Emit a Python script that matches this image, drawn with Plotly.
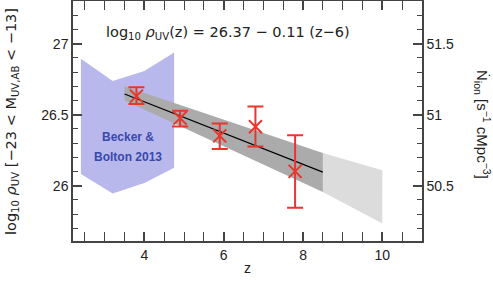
import plotly.graph_objects as go

# Data points
z_obs = [3.8, 4.9, 5.9, 6.8, 7.8]
rho_obs = [26.63, 26.475, 26.35, 26.415, 26.10]
err_up = [0.062, 0.052, 0.088, 0.142, 0.255]
err_lo = [0.055, 0.058, 0.092, 0.140, 0.255]

# Fit: log10 rho = 26.37 - 0.11 (z-6)
fit_a = 26.37
fit_b = -0.11
fit_z = [3.5, 8.5]

# Fit uncertainty bands (vertices)
band_z = [3.5, 8.5]
band_hi = [26.70, 26.23]
band_lo = [26.60, 25.955]
ext_z = [8.5, 10.0]
ext_hi = [26.23, 26.108]
ext_lo = [25.955, 25.733]

# Becker & Bolton 2013 region
bb_z = [2.4, 3.2, 4.0, 4.75]
bb_hi = [26.894, 26.737, 26.807, 26.937]
bb_lo = [26.082, 25.944, 26.018, 26.125]

RED = "#e8362c"
FONT = "Liberation Sans"

fig = go.Figure()

fig.add_trace(go.Scatter(
    x=bb_z + bb_z[::-1], y=bb_hi + bb_lo[::-1], fill="toself",
    fillcolor="#b8b8ec", line=dict(width=0), mode="lines", hoverinfo="skip"))

fig.add_trace(go.Scatter(
    x=ext_z + ext_z[::-1], y=ext_hi + ext_lo[::-1], fill="toself",
    fillcolor="#dcdcdc", line=dict(width=0), mode="lines", hoverinfo="skip"))

fig.add_trace(go.Scatter(
    x=band_z + band_z[::-1], y=band_hi + band_lo[::-1], fill="toself",
    fillcolor="#ababab", line=dict(width=0), mode="lines", hoverinfo="skip"))

fig.add_trace(go.Scatter(
    x=fit_z, y=[fit_a + fit_b * (z - 6) for z in fit_z], mode="lines",
    line=dict(color="black", width=1.2)))

fig.add_trace(go.Scatter(
    x=z_obs, y=rho_obs, mode="markers",
    marker=dict(symbol="x-thin", size=13, line=dict(color=RED, width=2)),
    error_y=dict(type="data", array=err_up, arrayminus=err_lo,
                 color=RED, thickness=2, width=8)))

# invisible trace for secondary axis
fig.add_trace(go.Scatter(x=[2.2], y=[51.0], yaxis="y2", mode="markers",
                         marker=dict(opacity=0), hoverinfo="skip"))

axcol = "#444444"
W, H = 493, 282
pl, pr, pt, pb = 73, 71, 1, 41
fig.update_layout(
    width=W, height=H,
    margin=dict(l=pl, r=pr, t=pt, b=pb, autoexpand=False),
    plot_bgcolor="white", paper_bgcolor="white",
    showlegend=False,
    font=dict(family=FONT, size=14, color="#222"),
    xaxis=dict(range=[2.2, 11.0], dtick=2, tick0=0, ticks="inside", ticklen=9,
               tickwidth=1.5, tickcolor=axcol, showline=True, linecolor=axcol,
               linewidth=1.5, mirror="allticks", showgrid=False, zeroline=False,
               minor=dict(dtick=0.5, ticklen=5, tickwidth=1.2, tickcolor=axcol,
                          ticks="inside", showgrid=False),
               tickfont=dict(size=14)),
    yaxis=dict(range=[25.61, 27.30], tickvals=[26, 26.5, 27], ticktext=["26", "26.5", "27"],
               ticks="inside", ticklen=9, tickwidth=1.5, tickcolor=axcol,
               showline=True, linecolor=axcol, linewidth=1.5, showgrid=False,
               zeroline=False,
               minor=dict(dtick=0.1, tick0=0, ticklen=5, tickwidth=1.2, tickcolor=axcol,
                          ticks="inside", showgrid=False),
               tickfont=dict(size=14)),
    yaxis2=dict(range=[50.11, 51.80], overlaying="y", side="right",
                tickvals=[50.5, 51, 51.5], ticktext=["50.5", "51", "51.5"],
                ticks="inside", ticklen=9, tickwidth=1.5, tickcolor=axcol,
                showline=True, linecolor=axcol, linewidth=1.5, showgrid=False,
                zeroline=False,
                minor=dict(dtick=0.1, tick0=0, ticklen=5, tickwidth=1.2, tickcolor=axcol,
                           ticks="inside", showgrid=False),
                tickfont=dict(size=14)),
)

pw, ph = W - pl - pr, H - pt - pb
def px(xp): return (xp - pl) / pw
def py(yp): return (H - pb - yp) / ph

fig.add_annotation(x=px(228), y=py(33), xref="paper", yref="paper", showarrow=False,
                   xanchor="center", yanchor="middle",
                   text="log<sub>10</sub> <i>ρ</i><sub>UV</sub>(z) = 26.37 − 0.11 (z−6)",
                   font=dict(size=14.5, color="#222", family="DejaVu Sans"))
fig.add_annotation(x=px(128), y=py(137), xref="paper", yref="paper", showarrow=False,
                   xanchor="center", yanchor="middle",
                   text="<b>Becker &amp;</b>", font=dict(size=12, color="#3848ad", family=FONT))
fig.add_annotation(x=px(128), y=py(157), xref="paper", yref="paper", showarrow=False,
                   xanchor="center", yanchor="middle",
                   text="<b>Bolton 2013</b>", font=dict(size=12, color="#3848ad", family=FONT))

fig.add_annotation(x=px(12), y=py(122), xref="paper", yref="paper", showarrow=False,
                   xanchor="center", yanchor="middle",
                   text="log<sub>10</sub> <i>ρ</i><sub>UV</sub> [−23 &lt; M<sub>UV,AB</sub> &lt; −13]",
                   textangle=-90, font=dict(size=14.5, color="#222", family="DejaVu Sans"))
fig.add_annotation(x=px(482), y=py(124), xref="paper", yref="paper", showarrow=False,
                   xanchor="center", yanchor="middle",
                   text="Ṅ<sub>ion</sub> [s<sup>−1</sup> cMpc<sup>−3</sup>]",
                   textangle=90, font=dict(size=15, color="#222", family=FONT))
fig.add_annotation(x=px(247), y=py(268), xref="paper", yref="paper", showarrow=False,
                   xanchor="center", yanchor="middle",
                   text="z", font=dict(size=14, color="#222", family=FONT))

fig.write_html("out.html", config={"displayModeBar": False},
               post_script="document.body.style.margin='0px';")
